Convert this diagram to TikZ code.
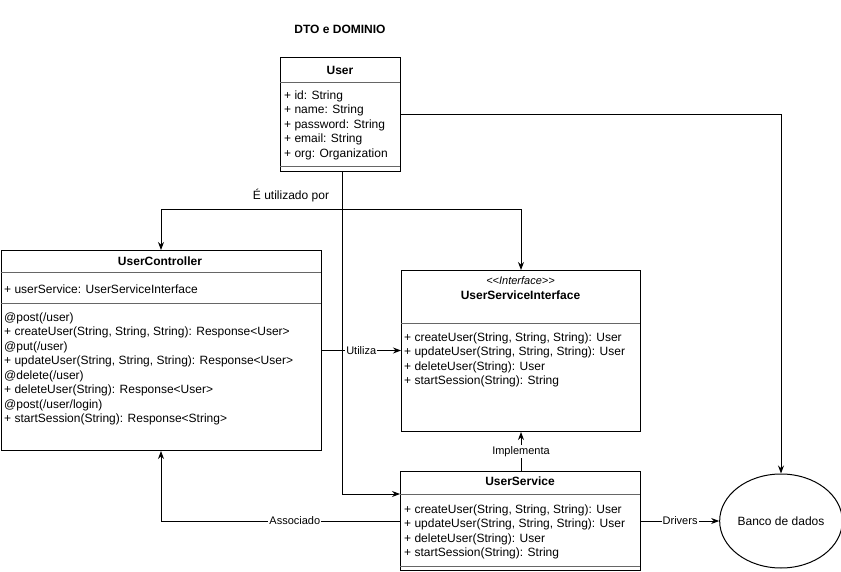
\documentclass[tikz,border=0pt]{standalone}
\usepackage{fontspec}
\setmainfont{Liberation Sans}
\usetikzlibrary{arrows.meta,calc,shapes.geometric}
\begin{document}
\begin{tikzpicture}[x=1pt,y=-1pt,
  font=\fontsize{12}{14}\selectfont,
  box/.style={draw,line width=1pt,anchor=north west,inner sep=0pt},
  sep/.style={draw=black!60,line width=1pt},
  txt/.style={anchor=west,inner sep=0pt},
  ttl/.style={inner sep=0pt,font=\fontsize{12}{14}\selectfont\bfseries},
  lbl/.style={fill=white,inner sep=1pt,font=\fontsize{11}{13}\selectfont},
  arr/.style={line width=1pt,-{Stealth[length=8pt,width=6pt]}},
  darr/.style={line width=1pt,{Stealth[length=8pt,width=6pt]}-{Stealth[length=8pt,width=6pt]}}
]
\useasboundingbox (0,0) rectangle (841,572);

\node[ttl] (title) at (340,29) {DTO e DOMINIO};

% User
\node[box,minimum width=120pt,minimum height=114pt] (user) at (280,57) {};
\node[ttl] (usert) at (340,70) {User};
\draw[sep] (280,83) -- (400,83);
\node[txt] (u1) at (284,96) {+ id: String};
\node[txt] (u2) at (284,110.5) {+ name: String};
\node[txt] (u3) at (284,125) {+ password: String};
\node[txt] (u4) at (284,139.5) {+ email: String};
\node[txt] (u5) at (284,154) {+ org: Organization};
\draw[sep] (280,166.5) -- (400,166.5);

% UserController
\node[box,minimum width=320pt,minimum height=200pt] (uc) at (0.5,250) {};
\node[ttl] (uct) at (160,261) {UserController};
\draw[sep] (0.5,273) -- (320.5,273);
\node[txt] (uca) at (4,289) {+ userService: UserServiceInterface};
\draw[sep] (0.5,303) -- (320.5,303);
\node[txt] (m1) at (4,318) {@post(/user)};
\node[txt] (m2) at (4,332.5) {+ createUser(String, String, String): Response<User>};
\node[txt] (m3) at (4,347) {@put(/user)};
\node[txt] (m4) at (4,361.5) {+ updateUser(String, String, String): Response<User>};
\node[txt] (m5) at (4,376) {@delete(/user)};
\node[txt] (m6) at (4,390.5) {+ deleteUser(String): Response<User>};
\node[txt] (m7) at (4,405) {@post(/user/login)};
\node[txt] (m8) at (4,419.5) {+ startSession(String): Response<String>};

% UserServiceInterface
\node[box,minimum width=239pt,minimum height=161pt] (usi) at (401,270) {};
\node[inner sep=0pt,font=\fontsize{11}{13}\selectfont\itshape] (usis) at (520.5,281) {{<}{<}Interface{>}{>}};
\node[ttl] (usit) at (520.5,295.5) {UserServiceInterface};
\draw[sep] (401,323) -- (640,323);
\node[txt] (i1) at (404,338) {+ createUser(String, String, String): User};
\node[txt] (i2) at (404,352.5) {+ updateUser(String, String, String): User};
\node[txt] (i3) at (404,367) {+ deleteUser(String): User};
\node[txt] (i4) at (404,381.5) {+ startSession(String): String};

% UserService
\node[box,minimum width=240pt,minimum height=99pt] (us) at (400,471) {};
\node[ttl] (ust) at (520,481) {UserService};
\draw[sep] (400,494) -- (640,494);
\node[txt] (s1) at (404,510) {+ createUser(String, String, String): User};
\node[txt] (s2) at (404,524.5) {+ updateUser(String, String, String): User};
\node[txt] (s3) at (404,539) {+ deleteUser(String): User};
\node[txt] (s4) at (404,553.5) {+ startSession(String): String};
\draw[sep] (400,566) -- (640,566);

% Database
\node[draw,line width=1pt,ellipse,minimum width=118pt,minimum height=94pt,inner sep=0pt] (db) at (781,521) {Banco de dados};

% connectors
\coordinate (utop) at (0,210);
\draw[darr] (uc.north) -- (uc.north |- utop) -- (usi.north |- utop) -- (usi.north);
\node[inner sep=0pt] (ulbl) at (291,196) {É utilizado por};

\draw[arr] (user.east) -| (db.north);

\draw[arr] ([xshift=2pt]user.south) |- ([yshift=-23pt]us.north west);

\draw[arr] (uc.east) -- (usi.west |- uc.east) node[lbl,midway] {Utiliza};

\draw[arr] (us.north -| usi.south) -- (usi.south) node[lbl,midway] {Implementa};

\draw[arr] (us.west) -| (uc.south) node[lbl,pos=0.22] {Associado};

\draw[arr] (us.east) -- (db.west) node[lbl,midway] {Drivers};

\end{tikzpicture}
\end{document}
